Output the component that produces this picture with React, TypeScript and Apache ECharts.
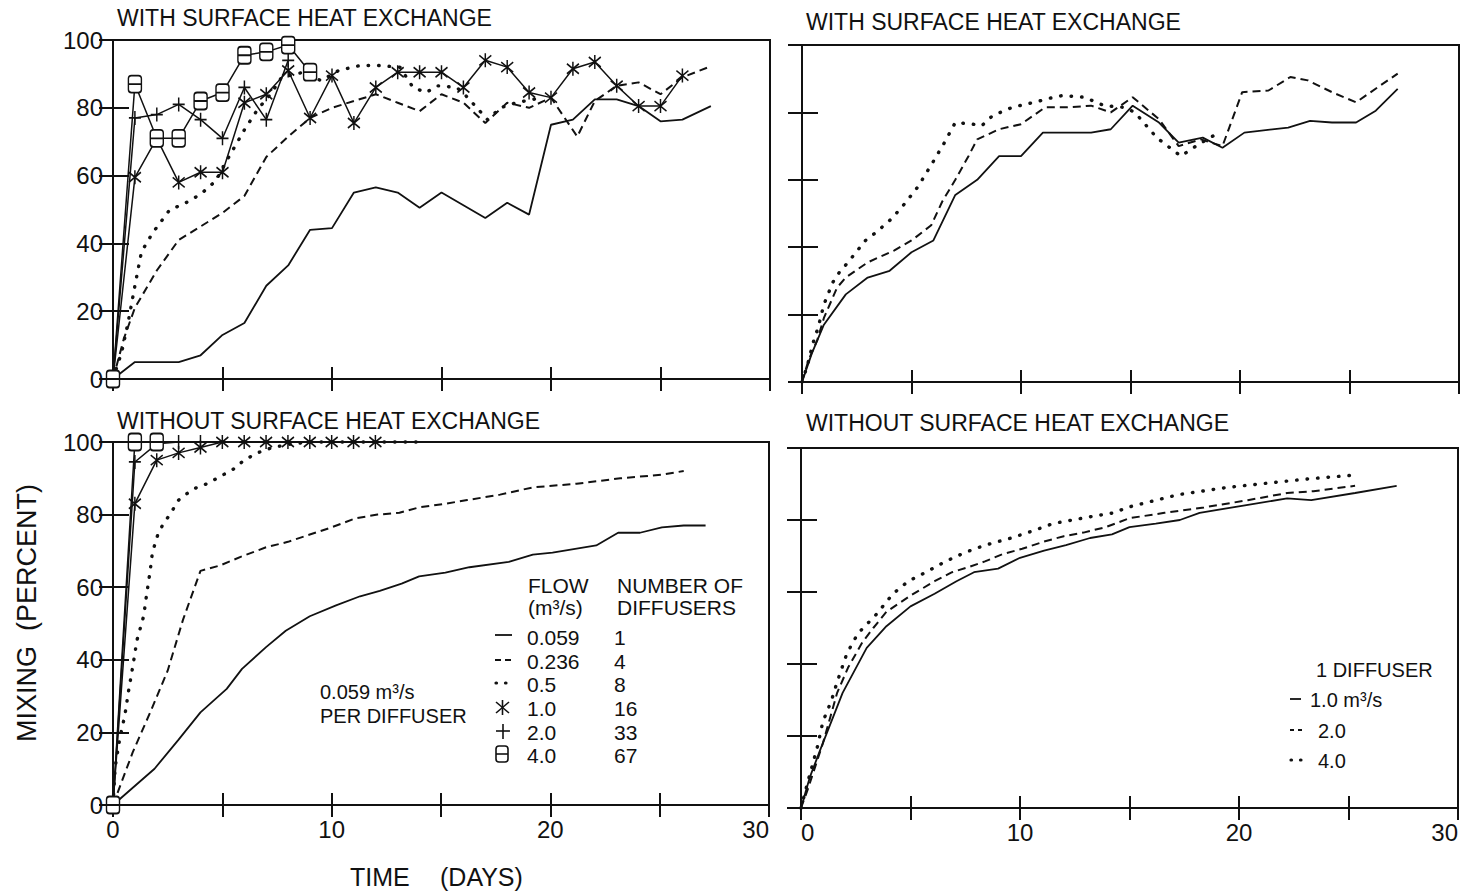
import React, { useEffect, useRef } from "react";
import * as echarts from "echarts";

// ---------- DATA: [day, mixing %] ----------
// Top-left: WITH surface heat exchange, 0.059 m3/s per diffuser
const TL_Q0059 = [[0,0],[1,5],[3,5],[4,7],[5,13],[6,16.5],[7,27.5],[8,33.5],[9,44],[10,44.5],[11,55],[12,56.5],[13,55],[14,50.5],[15,55],[17,47.5],[18,52],[19,48.5],[20,75],[21,76.5],[22,82.5],[23,82.5],[24,80.5],[25,76],[26,76.5],[27.3,80.5]];
const TL_Q0236 = [[0,0],[0.5,12],[1,21],[2,32],[3,41],[4,45],[5,49],[6,54],[7,65.5],[8,71.5],[9,77],[10,80],[11,82],[12,84],[13,81.5],[14,79],[15,84],[16,81.5],[17,75.5],[18,81.5],[19,80],[20,83],[21.2,71.5],[22,82],[23,86.5],[24,87.5],[25,84],[26,89],[27.2,92]];
const TL_Q05 = [[0,0],[0.4,8],[0.7,17],[1,27.5],[1.3,37.5],[1.8,43],[2.6,50],[3.2,51.5],[4,54.5],[4.7,58.5],[5.2,64.5],[6,73.5],[6.6,79.5],[7.2,84],[7.7,89],[8.7,90.5],[9.5,88],[10.3,91],[11.3,92.5],[12.1,92.5],[13.1,92],[13.7,86],[14.3,84.5],[14.8,86.5],[15.7,86],[16.2,83],[17.1,76.5],[17.7,80],[18.4,81.5],[19.6,83]];
const TL_Q1 = [[0,0],[1,59.5],[2,71],[3,58],[4,61],[5,61],[6,81.5],[7,84],[8,91],[9,77],[10,89.5],[11,75.5],[12,86],[13,90.5],[14,90.5],[15,90.5],[16,86],[17,94],[18,92],[19,84.5],[20,83],[21,91.5],[22,93.5],[23,86.5],[24,80.5],[25,80.5],[26,89.5]];
const TL_Q2 = [[0,0],[1,77],[2,78],[3,81],[4,76.5],[5,71],[6,86],[7,76.5],[8,94]];
const TL_Q4 = [[0,0],[1,87],[2,71],[3,71],[4,82],[5,84.5],[6,95.5],[7,96.5],[8,98.5],[9,90.5]];

// Top-right: WITH surface heat exchange, 1 diffuser
const TR_Q1 = [[0,0],[0.45,8.5],[1,17],[2,26],[3,31],[4,33],[5,38.5],[6,42],[7,55.5],[8,60],[9,67],[10,67],[11,74],[12,74],[13.2,74],[14.1,75],[15.1,82],[16.3,77],[17.2,71],[18.3,72.5],[19.2,69.5],[20.2,74],[22.2,75.5],[23.2,77.5],[24.2,77],[25.3,77],[26.2,80.5],[27.2,87]];
const TR_Q2 = [[0,0],[0.3,6.5],[0.7,12.5],[1,19],[1.6,28],[2,31],[3,35.5],[4.2,39],[5,42],[5.9,46.5],[6.4,53.5],[7,60],[7.6,67],[8,72],[9,75],[10,76.5],[11.1,81.5],[12.1,81.5],[13.2,82],[14.1,80],[15.1,84.5],[16.3,78],[17.2,70],[18.2,72],[19.2,70],[20.1,86],[21.3,86.5],[22.3,90.5],[23.1,89.5],[24.2,86],[25.3,83],[26.3,87.5],[27.2,91.5]];
const TR_Q4 = [[0,0],[0.25,5],[0.5,11.5],[0.75,16.5],[1,23],[1.4,29.5],[1.7,32.5],[2.1,35.5],[2.9,42],[3.4,44.5],[4.1,48.5],[4.7,53],[5.3,58],[6,65.5],[6.5,71],[7,77],[7.8,76.5],[8.2,76],[8.7,79],[9.6,81.5],[10.6,83],[11.5,84.5],[11.9,85],[12.9,84.5],[13.8,82],[14.7,81.5],[15.2,80],[16.2,72.5],[16.9,69],[17.3,67],[18.1,70.5],[18.9,73.5]];

// Bottom-left: WITHOUT surface heat exchange, 0.059 m3/s per diffuser
const BL_Q0059 = [[0,0],[1.9,10],[3,18],[4,25.5],[5.2,32],[5.9,37.5],[7,43.5],[7.9,48],[9,52],[10.2,55],[11.3,57.5],[12.2,59],[13.2,61],[14,63],[15.2,64],[16.3,65.5],[18.1,67],[19.2,69],[20.1,69.5],[22.1,71.5],[23.1,75],[24.1,75],[25.1,76.5],[26.1,77],[27.1,77]];
const BL_Q0236 = [[0,0],[0.9,14.5],[1.7,25.5],[2.5,37],[3.2,51],[4,64.5],[4.9,66],[5.9,68.5],[7,71],[8,72.5],[9,74.5],[10,76.5],[11.1,79],[12.1,80],[13.1,80.5],[14,82],[15.2,83],[16.2,84],[17.7,85.5],[19.2,87.5],[21.2,88.5],[23.2,90],[25.1,91],[26.1,92]];
const BL_Q05 = [[0,0],[0.1,10.5],[0.3,18],[0.55,25],[0.7,31],[0.9,38],[1.1,45.5],[1.4,52],[1.55,58.5],[1.7,64.5],[1.8,69.5],[2.05,74.5],[2.3,77.5],[2.6,80],[3,84],[3.65,87],[4.3,88.5],[4.9,90.5],[5.5,92.5],[6,95],[6.6,97],[7.3,98.5],[8.2,99.5],[9,100],[10,100],[11,100],[12,100],[13,100],[14.2,100]];
const BL_Q1 = [[0,0],[1,83],[2,95],[3,97],[4,98.5],[5,100],[6,100],[7,100],[8,100],[9,100],[10,100],[11,100],[12,100]];
const BL_Q2 = [[0,0],[1,94.5],[2,99.5],[3,100],[4,100]];
const BL_Q4 = [[0,0],[1,100],[2,100]];

// Bottom-right: WITHOUT surface heat exchange, 1 diffuser
const BR_Q1 = [[0,0],[0.4,8.5],[0.9,16.5],[1.9,32],[3,44.5],[3.9,50.5],[5,56],[6.1,59.5],[7.1,63],[7.9,65.5],[9,66.5],[10,69.5],[11.1,71.5],[12.1,73],[13.2,75],[14.2,76],[15,78],[16.2,79],[17.3,80],[18.2,82],[20.2,84],[22.2,86],[23.3,85.5],[25.3,87.5],[27.2,89.5]];
const BR_Q2 = [[0,0],[0.3,5],[0.65,11.5],[1,18],[1.35,25.5],[1.65,32],[2.15,39],[2.8,46],[3.3,50],[3.9,54.5],[5,59],[6.1,63],[6.9,65.5],[7.7,67],[8.4,68.5],[9.2,70.5],[10.1,72],[11.1,74],[12,75.5],[12.9,76.5],[13.9,78],[15,80.5],[16.6,82],[18.4,83.5],[20.4,85.5],[22.2,87.5],[23.4,88],[25.3,89.5]];
const BR_Q4 = [[0,0],[0.3,7],[0.75,17],[1,24],[1.4,30],[1.65,35],[2.1,43],[2.6,48.5],[3.4,53.5],[4.2,59.5],[4.9,63],[5.7,65.5],[6.6,68.5],[7.5,71],[8.4,73],[9.6,75],[10.6,77],[11.5,79],[12.4,80],[13.3,81],[14.3,82],[14.9,83.5],[17.2,87],[19.4,89],[21.7,90.5],[23.3,91.5],[25.3,92.5]];

// Panel titles and legend texts
const PANEL_TITLES = ["WITH SURFACE HEAT EXCHANGE", "WITH SURFACE HEAT EXCHANGE", "WITHOUT SURFACE HEAT EXCHANGE", "WITHOUT SURFACE HEAT EXCHANGE"];
const LEGEND_FLOWS = ["0.059", "0.236", "0.5", "1.0", "2.0", "4.0"];
const LEGEND_DIFFUSERS = ["1", "4", "8", "16", "33", "67"];
const LEGEND2_FLOWS = ["1.0 m³/s", "2.0", "4.0"];

const INK = "#111";
const FONT = '"Liberation Sans", Arial, Helvetica, sans-serif';

const GRIDS = [
  { left: 113, top: 40, width: 657, height: 339 },
  { left: 802, top: 45, width: 657, height: 337 },
  { left: 113, top: 442, width: 656, height: 363 },
  { left: 801, top: 448, width: 657, height: 360 },
];
const TITLE_POS = [[117, 18], [806, 22], [117, 421], [806, 423]];

const ASTER = "path://M0 2L12 12M12 2L0 12M6 0L6 14";
const PLUS = "path://M6 0L6 14M0 7L12 7";
const SQUARE = "path://M3 0L10 0Q13 0 13 3L13 14Q13 17 10 17L3 17Q0 17 0 14L0 3Q0 0 3 0ZM0 8.5L13 8.5";

function lineStyleOf(kind: string) {
  if (kind === "dashed") return { color: INK, width: 2, type: [8, 5] };
  if (kind === "dotted") return { color: INK, width: 3.4, type: [0.5, 10], cap: "round" };
  return { color: INK, width: 1.8, type: "solid" };
}

function mk(gi: number, data: number[][], kind: string, symbol?: string) {
  const s: any = {
    type: "line",
    xAxisIndex: gi * 2,
    yAxisIndex: gi * 2,
    data,
    clip: false,
    silent: true,
    lineStyle: lineStyleOf(kind),
    showSymbol: !!symbol,
    symbol: symbol || "none",
    showAllSymbol: true,
  };
  if (symbol) {
    s.lineStyle.width = 1.5;
    s.symbolSize = symbol === SQUARE ? [13, 17] : [12, 14];
    s.itemStyle = {
      color: symbol === SQUARE ? "#fff" : "rgba(0,0,0,0)",
      borderColor: INK,
      borderWidth: 1.6,
    };
    s.z = 3;
  }
  return s;
}

function buildOption() {
  const xAxis: any[] = [];
  const yAxis: any[] = [];
  GRIDS.forEach((_, i) => {
    const tick = { show: true, inside: true, lineStyle: { color: INK, width: 2 } };
    xAxis.push({
      type: "value", gridIndex: i, position: "bottom", min: 0, max: 30, interval: 5,
      axisLine: { show: false }, splitLine: { show: false },
      axisTick: { ...tick, length: 12 },
      axisLabel: {
        show: i >= 2, margin: 12, color: INK, fontSize: 24, fontFamily: FONT,
        alignMaxLabel: "right",
        alignMinLabel: i === 3 ? "left" : "center",
        formatter: (v: number) => (v % 10 === 0 ? String(v) : ""),
      },
    });
    xAxis.push({
      type: "value", gridIndex: i, position: "top", min: 0, max: 30, interval: 5,
      axisLine: { show: false }, splitLine: { show: false },
      axisTick: { ...tick, length: 12 }, axisLabel: { show: false },
    });
    yAxis.push({
      type: "value", gridIndex: i, position: "left", min: 0, max: 100, interval: 20,
      axisLine: { show: false }, splitLine: { show: false },
      axisTick: { ...tick, length: 16 },
      axisLabel: { show: i === 0 || i === 2, margin: 10, color: INK, fontSize: 24, fontFamily: FONT },
    });
    yAxis.push({
      type: "value", gridIndex: i, position: "right", min: 0, max: 100, interval: 20,
      axisLine: { show: false }, splitLine: { show: false },
      axisTick: { ...tick, length: 14 }, axisLabel: { show: false },
    });
  });

  const series = [
    mk(0, TL_Q0059, "solid"), mk(0, TL_Q0236, "dashed"), mk(0, TL_Q05, "dotted"),
    mk(0, TL_Q1, "solid", ASTER), mk(0, TL_Q2, "solid", PLUS), mk(0, TL_Q4, "solid", SQUARE),
    mk(1, TR_Q1, "solid"), mk(1, TR_Q2, "dashed"), mk(1, TR_Q4, "dotted"),
    mk(2, BL_Q0059, "solid"), mk(2, BL_Q0236, "dashed"), mk(2, BL_Q05, "dotted"),
    mk(2, BL_Q1, "solid", ASTER), mk(2, BL_Q2, "solid", PLUS), mk(2, BL_Q4, "solid", SQUARE),
    mk(3, BR_Q1, "solid"), mk(3, BR_Q2, "dashed"), mk(3, BR_Q4, "dotted"),
  ];

  const txt = (text: string, x: number, y: number, size: number, align = "left", extra: any = {}) => ({
    type: "text", x, y, silent: true, z: 10, ...extra,
    style: { text, fill: INK, font: `${size}px ${FONT}`, textAlign: align, textVerticalAlign: "middle" },
  });
  const ln = (x1: number, y1: number, x2: number, y2: number, dash?: number[], w = 1.8) => ({
    type: "line", silent: true, z: 10,
    shape: { x1, y1, x2, y2 },
    style: { stroke: INK, lineWidth: w, lineDash: dash || null, lineCap: dash && dash[0] < 1 ? "round" : "butt" },
  });

  const graphic: any[] = [];
  PANEL_TITLES.forEach((t, i) => graphic.push(txt(t, TITLE_POS[i][0], TITLE_POS[i][1], 23)));
  graphic.push(txt("MIXING  (PERCENT)", 27, 613, 27, "center", { rotation: Math.PI / 2 }));
  graphic.push(txt("TIME", 350, 877, 25));
  graphic.push(txt("(DAYS)", 440, 877, 25));

  // bottom-left legend
  graphic.push(txt("FLOW", 528, 585, 21));
  graphic.push(txt("(m³/s)", 528, 607, 21));
  graphic.push(txt("NUMBER OF", 617, 585, 21));
  graphic.push(txt("DIFFUSERS", 617, 607, 21));
  const rowsY = [637, 661, 684, 708, 732, 755];
  LEGEND_FLOWS.forEach((f, i) => {
    graphic.push(txt(f, 527, rowsY[i], 21));
    graphic.push(txt(LEGEND_DIFFUSERS[i], 614, rowsY[i], 21));
  });
  graphic.push(ln(495, 635, 512, 635));
  graphic.push(ln(495, 660, 512, 660, [6, 4]));
  graphic.push(ln(496, 683, 512, 683, [0.5, 9], 3.2));
  graphic.push(ln(496, 702, 509, 713, undefined, 1.6));
  graphic.push(ln(509, 702, 496, 713, undefined, 1.6));
  graphic.push(ln(502.5, 700, 502.5, 715, undefined, 1.6));
  graphic.push(ln(503, 724, 503, 739, undefined, 1.6));
  graphic.push(ln(496, 731, 510, 731, undefined, 1.6));
  graphic.push({
    type: "rect", silent: true, z: 10, shape: { x: 496, y: 746, width: 12, height: 16, r: 3 },
    style: { fill: "#fff", stroke: INK, lineWidth: 1.6 },
  });
  graphic.push(ln(496, 754, 508, 754, undefined, 1.6));
  graphic.push(txt("0.059 m³/s", 320, 692, 20));
  graphic.push(txt("PER DIFFUSER", 320, 716, 20));

  // bottom-right legend
  graphic.push(txt("1 DIFFUSER", 1316, 670, 20));
  graphic.push(ln(1290, 699, 1301, 699));
  graphic.push(txt(LEGEND2_FLOWS[0], 1310, 700, 20));
  graphic.push(ln(1290, 730, 1302, 730, [4, 4]));
  graphic.push(txt(LEGEND2_FLOWS[1], 1318, 731, 20));
  graphic.push(ln(1291, 760, 1302, 760, [0.5, 9], 3.2));
  graphic.push(txt(LEGEND2_FLOWS[2], 1318, 761, 20));

  return {
    animation: false,
    backgroundColor: "#fff",
    grid: GRIDS.map((g) => ({ ...g, show: true, borderColor: INK, borderWidth: 2, containLabel: false })),
    xAxis,
    yAxis,
    series,
    graphic,
  };
}

export default function App() {
  const ref = useRef<HTMLDivElement>(null);
  useEffect(() => {
    if (!ref.current) return;
    const chart = echarts.init(ref.current, null, { renderer: "svg" });
    chart.setOption(buildOption() as any);
    return () => chart.dispose();
  }, []);
  return (
    <div
      ref={ref}
      style={{ position: "absolute", left: 0, top: 0, width: 1476, height: 895, background: "#fff" }}
    />
  );
}
